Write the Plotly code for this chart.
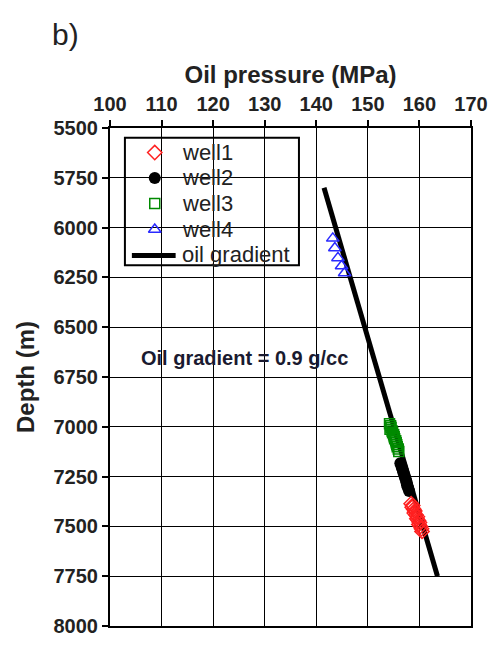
import plotly.graph_objects as go

# Well pressure measurements: pressure (MPa) vs depth (m)
well1_pressure = [158.4, 158.7, 158.6, 158.9, 159.1, 159.0, 159.3, 159.6, 159.5, 159.8, 160.0, 159.9, 160.2, 160.4, 160.5]
well1_depth = [7386, 7395, 7404, 7414, 7423, 7433, 7442, 7452, 7461, 7471, 7480, 7490, 7500, 7512, 7525]

well2_pressure = [156.3, 156.5, 156.6, 156.8, 156.9, 157.1, 157.2, 157.4, 157.5, 157.6, 157.8, 158.0]
well2_depth = [7183, 7195, 7207, 7219, 7231, 7244, 7256, 7268, 7280, 7293, 7307, 7322]

well3_pressure = [154.2, 154.4, 154.5, 154.3, 154.7, 154.8, 155.0, 155.1, 155.2, 155.4, 155.5, 155.6, 155.7, 155.9, 156.0]
well3_depth = [6985, 6995, 7003, 7012, 7021, 7030, 7040, 7050, 7060, 7070, 7080, 7090, 7100, 7112, 7124]

well4_pressure = [143.2, 143.6, 144.2, 144.9, 145.5]
well4_depth = [6054, 6102, 6152, 6193, 6228]

# Oil gradient line end points
gradient_pressure = [141.5, 163.5]
gradient_depth = [5800, 7750]

x_ticks = [100, 110, 120, 130, 140, 150, 160, 170]
y_ticks = [5500, 5750, 6000, 6250, 6500, 6750, 7000, 7250, 7500, 7750, 8000]

legend_names = ["well1", "well2", "well3", "well4", "oil gradient"]

FONT = "Liberation Sans, Arial, sans-serif"
TEXT = "#222222"

# Figure geometry (pixels)
WIDTH, HEIGHT = 500, 649
M_L, M_R, M_T, M_B = 110, 27, 128, 13
PLOT_W = WIDTH - M_L - M_R
PLOT_H = HEIGHT - M_T - M_B


def px_x(px):
    """Horizontal pixel position -> paper fraction."""
    return (px - M_L) / PLOT_W


def px_y(py):
    """Vertical pixel position (from top) -> paper fraction."""
    return (HEIGHT - M_B - py) / PLOT_H


styles = {
    "well1": dict(symbol="diamond-open", size=11, color="#ff2020", line=dict(width=1.5)),
    "well2": dict(symbol="circle", size=12, color="black"),
    "well3": dict(symbol="square-open", size=10, color="#008a00", line=dict(width=1.5)),
    "well4": dict(symbol="triangle-up-open", size=11, color="#2a2aff", line=dict(width=1.5)),
}
gradient_line = dict(color="black", width=5)

fig = go.Figure()

# Gradient line drawn first so the well markers sit on top of it
fig.add_trace(go.Scatter(
    x=gradient_pressure, y=gradient_depth, mode="lines", name="oil gradient",
    line=gradient_line, showlegend=False,
))
for name, px_, dp in [
    ("well4", well4_pressure, well4_depth),
    ("well3", well3_pressure, well3_depth),
    ("well2", well2_pressure, well2_depth),
    ("well1", well1_pressure, well1_depth),
]:
    fig.add_trace(go.Scatter(
        x=px_, y=dp, mode="markers", name=name, marker=styles[name], showlegend=False,
    ))

# Boxed key in the upper-left corner of the plot
box_left, box_right, box_top, box_bottom = 125, 300, 138, 268
row_y = [153, 179, 205, 231.5, 257]
symbol_x = 155
text_x = 180

fig.add_shape(
    type="rect", xref="paper", yref="paper",
    x0=px_x(box_left), x1=px_x(box_right), y0=px_y(box_bottom), y1=px_y(box_top),
    line=dict(color="black", width=2), fillcolor="white", layer="between",
)
for name, ry in zip(legend_names, row_y):
    if name in styles:
        fig.add_trace(go.Scatter(
            x=[px_x(symbol_x)], y=[px_y(ry)], xaxis="x2", yaxis="y2",
            mode="markers", marker=styles[name], showlegend=False, hoverinfo="skip",
        ))
    else:
        fig.add_shape(
            type="line", xref="paper", yref="paper",
            x0=px_x(132), x1=px_x(176), y0=px_y(ry + 1), y1=px_y(ry + 1),
            line=gradient_line, layer="above",
        )
    fig.add_annotation(
        x=px_x(text_x), y=px_y(ry), xref="paper", yref="paper", text=name,
        xanchor="left", yanchor="middle", showarrow=False,
        font=dict(family=FONT, size=22, color=TEXT),
    )

fig.add_annotation(
    x=126, y=6653, xref="x", yref="y", text="<b>Oil gradient = 0.9 g/cc</b>",
    showarrow=False, font=dict(family=FONT, size=20, color="#1a1a30"),
)
fig.add_annotation(
    x=px_x(50), y=px_y(33), xref="paper", yref="paper", text="b)",
    xanchor="left", yanchor="middle", showarrow=False,
    font=dict(family=FONT, size=30, color=TEXT),
)

axis_common = dict(
    ticks="outside", ticklen=6, tickwidth=1.5, tickcolor="black",
    showgrid=True, gridcolor="black", gridwidth=1,
    showline=True, linecolor="black", linewidth=2, mirror=True,
    zeroline=False,
    tickfont=dict(family=FONT, size=20, color=TEXT, weight="bold"),
)

fig.update_layout(
    width=WIDTH, height=HEIGHT,
    margin=dict(l=M_L, r=M_R, t=M_T, b=M_B),
    paper_bgcolor="white", plot_bgcolor="white",
    font=dict(family=FONT, color=TEXT),
    showlegend=False,
    xaxis=dict(
        side="top", range=[100, 170], tickvals=x_ticks, ticklabelstandoff=1,
        title=dict(text="<b>Oil pressure (MPa)</b>", standoff=3,
                   font=dict(family=FONT, size=24, color=TEXT)),
        **axis_common,
    ),
    yaxis=dict(
        range=[8000, 5500], tickvals=y_ticks,
        title=dict(text="<b>Depth (m)</b>", standoff=12,
                   font=dict(family=FONT, size=24, color=TEXT)),
        **axis_common,
    ),
    xaxis2=dict(overlaying="x", range=[0, 1], visible=False, fixedrange=True),
    yaxis2=dict(overlaying="y", range=[0, 1], visible=False, fixedrange=True),
)

fig.write_html("out.html")
